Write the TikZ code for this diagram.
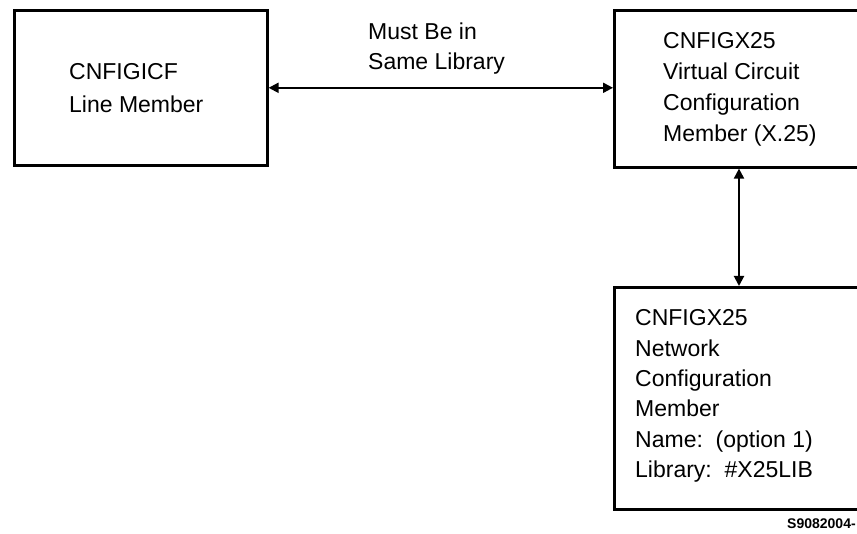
\documentclass[tikz,border=0pt]{standalone}
\usepackage{fontspec}
\setmainfont{Liberation Sans}
\usetikzlibrary{arrows.meta}
\begin{document}
\begin{tikzpicture}[x=1pt,y=-1pt,
  box/.style={draw=black,line width=2.6pt,rectangle,inner sep=0pt,anchor=north west},
  txt/.style={anchor=north west,inner sep=0pt,align=left,text=black},
  link/.style={line width=2pt,{Triangle[length=10pt,width=10pt]}-{Triangle[length=10pt,width=10pt]}}]
\useasboundingbox (0,0) rectangle (857,534);
\clip (0,0) rectangle (857,534);
\fill[white] (0,0) rectangle (857,534);
% boxes
\node[box,minimum width=253pt,minimum height=155pt] (A) at (13,9) {};
\node[box,minimum width=260pt,minimum height=157pt] (B) at (613,9) {};
\node[box,minimum width=260pt,minimum height=222pt] (C) at (613,286) {};
% texts
\node[txt,font=\fontsize{23}{33}\selectfont] (At) at (69,63.5) {CNFIGICF\\Line Member};
\node[txt,font=\fontsize{23}{31}\selectfont] (Bt) at (663,32.5) {CNFIGX25\\Virtual Circuit\\Configuration\\Member (X.25)};
\node[txt,font=\fontsize{23}{30.4}\selectfont] (Ct) at (635,309.5) {CNFIGX25\\Network\\Configuration\\Member\\Name:\ \ (option 1)\\Library:\ \ \#X25LIB};
\node[txt,font=\fontsize{23}{30}\selectfont] (L) at (368,22.5) {Must Be in\\Same Library};
\node[anchor=base west,inner sep=0pt,font=\fontsize{14}{16}\bfseries\selectfont] (id) at (787,528) {S9082004-};
% connectors
\coordinate (vx) at (739,0);
\draw[link] (A.east) -- (A.east -| B.west);
\draw[link] (B.south -| vx) -- (C.north -| vx);
\end{tikzpicture}
\end{document}
